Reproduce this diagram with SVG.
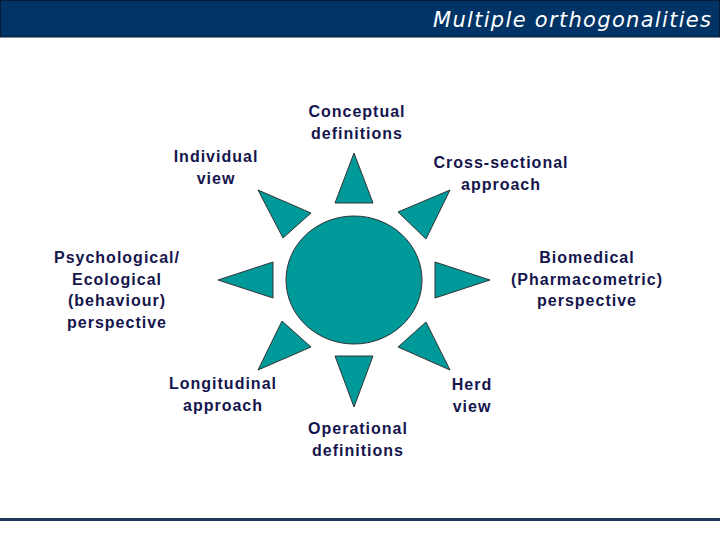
<svg xmlns="http://www.w3.org/2000/svg" width="720" height="540" viewBox="0 0 720 540">
<style>
.lbl{font-family:"Liberation Sans",Arial,sans-serif;font-size:16px;font-weight:bold;letter-spacing:1px;fill:#15154d;text-anchor:middle}
.ray{fill:#009999;stroke:#333333;stroke-width:1}
</style>
<rect width="720" height="540" fill="#ffffff"/>
<g id="header">
<rect x="0.5" y="0.5" width="719" height="36.5" fill="#003366" stroke="#0a1a30" stroke-width="1"/>
<text x="433" y="27" font-family="DejaVu Sans, Verdana, sans-serif" font-style="italic" font-size="21" fill="#ffffff" textLength="278" lengthAdjust="spacing">Multiple orthogonalities</text>
</g>
<rect id="footer-line" x="0" y="518" width="720" height="3" fill="#1c3659"/>
<g id="hub">
<ellipse cx="354" cy="280" rx="68" ry="64" class="ray"/>
</g>
<g id="connectors">
<polygon class="ray" points="354,153 335,203 373,203"/>
<polygon class="ray" points="354,407 335,356 373,356"/>
<polygon class="ray" points="218,280 273,262 273,298"/>
<polygon class="ray" points="490,280 435,262 435,298"/>
<polygon class="ray" points="258,190 311,213 283,238"/>
<polygon class="ray" points="450,190 398,212 426,239"/>
<polygon class="ray" points="258,370 282,321 311,347"/>
<polygon class="ray" points="450,370 426,322 398,347"/>
</g>
<g id="conceptual">
<text class="lbl" x="357" y="117">Conceptual</text>
<text class="lbl" x="357" y="139">definitions</text>
</g>
<g id="individual">
<text class="lbl" x="216" y="162">Individual</text>
<text class="lbl" x="216" y="184">view</text>
</g>
<g id="cross-sectional">
<text class="lbl" x="501" y="168">Cross-sectional</text>
<text class="lbl" x="501" y="190">approach</text>
</g>
<g id="psychological">
<text class="lbl" x="117" y="263">Psychological/</text>
<text class="lbl" x="117" y="284.5">Ecological</text>
<text class="lbl" x="117" y="306">(behaviour)</text>
<text class="lbl" x="117" y="327.5">perspective</text>
</g>
<g id="biomedical">
<text class="lbl" x="587" y="263">Biomedical</text>
<text class="lbl" x="587" y="284.5">(Pharmacometric)</text>
<text class="lbl" x="587" y="306">perspective</text>
</g>
<g id="longitudinal">
<text class="lbl" x="223" y="389">Longitudinal</text>
<text class="lbl" x="223" y="411">approach</text>
</g>
<g id="herd">
<text class="lbl" x="472" y="390">Herd</text>
<text class="lbl" x="472" y="412">view</text>
</g>
<g id="operational">
<text class="lbl" x="358" y="434">Operational</text>
<text class="lbl" x="358" y="456">definitions</text>
</g>
</svg>
